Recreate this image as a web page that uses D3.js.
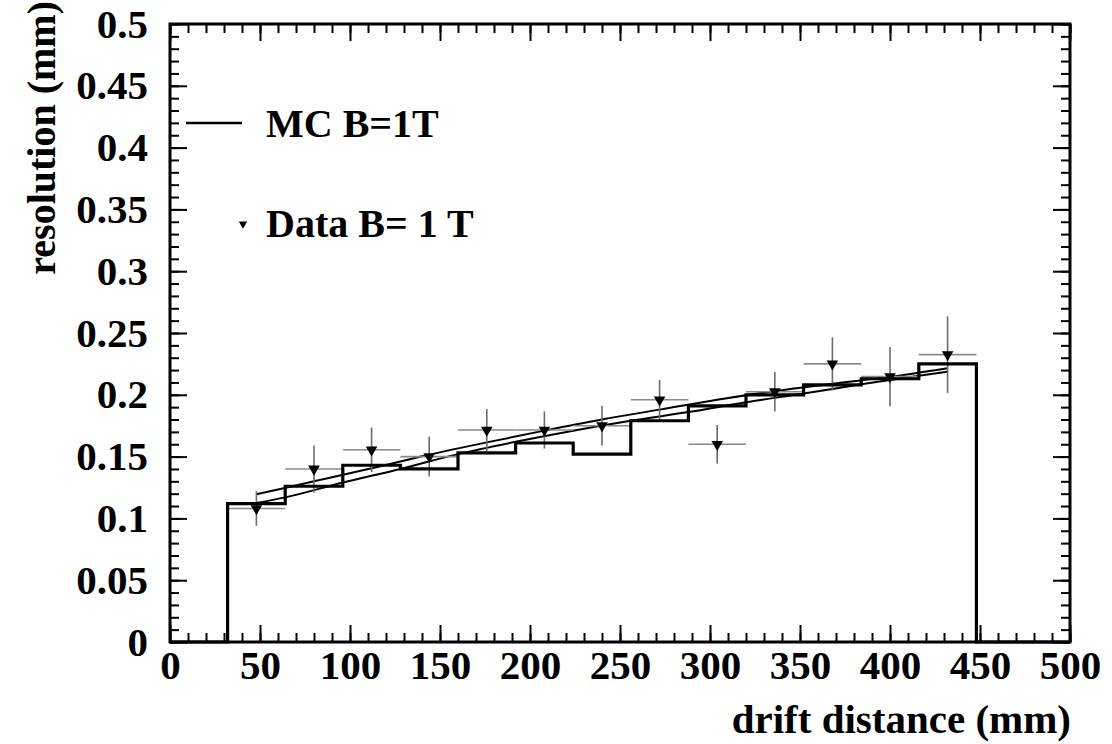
<!DOCTYPE html>
<html><head><meta charset="utf-8">
<script src="https://cdn.jsdelivr.net/npm/d3@7"></script>
<style>body{margin:0;background:#fff}svg{display:block}</style>
</head><body>
<svg id="c" width="1112" height="744"></svg>
<script>
// ---- data ----
const binEdges = [32,64,96,128,160,192,224,256,288,320,352,384,416,448];
const mcHist = [0.112,0.126,0.143,0.140,0.153,0.161,0.152,0.179,0.191,0.200,0.208,0.213,0.225];
const dataX = [48,80,112,144,176,208,240,272,304,336,368,400,432];
const dataY = [0.108,0.140,0.1555,0.150,0.1715,0.1715,0.175,0.196,0.160,0.2025,0.225,0.2147,0.2325];
const dataErr = [0.014,0.019,0.018,0.016,0.017,0.015,0.016,0.016,0.0155,0.016,0.0215,0.024,0.031];
const dataXErr = 16;
const fitDataX = [48,80,112,144,176,208,240,272,304,336,368,400,432];
const fitDataY = [0.1195,0.130,0.1405,0.1515,0.1615,0.171,0.180,0.188,0.196,0.203,0.209,0.2145,0.2215];
const fitMcX = [48,64,96,128,160,192,224,256,288,320,352,384,416,432];
const fitMcY = [0.1125,0.117,0.129,0.140,0.152,0.162,0.171,0.179,0.186,0.194,0.201,0.2085,0.2155,0.2187];
const xTicks = [0,50,100,150,200,250,300,350,400,450,500];
const xTickLabels = ["0","50","100","150","200","250","300","350","400","450","500"];
const yTicks = [0,0.05,0.1,0.15,0.2,0.25,0.3,0.35,0.4,0.45,0.5];
const yTickLabels = ["0","0.05","0.1","0.15","0.2","0.25","0.3","0.35","0.4","0.45","0.5"];
const xMinor = d3.range(0,501,10);
const yMinor = d3.range(0,51,1).map(d=>d/100);

// ---- layout ----
const svg = d3.select("#c");
const FONT = "'Liberation Serif','Times New Roman',serif";
const x = d3.scaleLinear().domain([0,500]).range([170,1070]);
const y = d3.scaleLinear().domain([0,0.5]).range([642,24]);
const L = 170, R = 1070, T = 24, B = 642;

function styleAxis(g){
  g.select(".domain").remove();
  g.selectAll("line").attr("stroke","#000").attr("stroke-width",2);
  g.selectAll("text").attr("font-family",FONT).attr("font-weight","bold").attr("font-size",41).attr("fill","#000");
}
const bottomMaj = svg.append("g").attr("transform",`translate(0,${B})`)
  .call(d3.axisBottom(x).tickValues(xTicks).tickSize(-17).tickPadding(8).tickFormat((d,i)=>xTickLabels[i]));
styleAxis(bottomMaj);
const bottomMin = svg.append("g").attr("transform",`translate(0,${B})`)
  .call(d3.axisBottom(x).tickValues(xMinor).tickSize(-9).tickFormat(""));
styleAxis(bottomMin);
const topMaj = svg.append("g").attr("transform",`translate(0,${T})`)
  .call(d3.axisTop(x).tickValues(xTicks).tickSize(-17).tickFormat(""));
styleAxis(topMaj);
const topMin = svg.append("g").attr("transform",`translate(0,${T})`)
  .call(d3.axisTop(x).tickValues(xMinor).tickSize(-9).tickFormat(""));
styleAxis(topMin);
const leftMaj = svg.append("g").attr("transform",`translate(${L},0)`)
  .call(d3.axisLeft(y).tickValues(yTicks).tickSize(-17).tickPadding(22).tickFormat((d,i)=>yTickLabels[i]));
styleAxis(leftMaj);
const leftMin = svg.append("g").attr("transform",`translate(${L},0)`)
  .call(d3.axisLeft(y).tickValues(yMinor).tickSize(-9).tickFormat(""));
styleAxis(leftMin);
const rightMaj = svg.append("g").attr("transform",`translate(${R},0)`)
  .call(d3.axisRight(y).tickValues(yTicks).tickSize(-17).tickFormat(""));
styleAxis(rightMaj);
const rightMin = svg.append("g").attr("transform",`translate(${R},0)`)
  .call(d3.axisRight(y).tickValues(yMinor).tickSize(-9).tickFormat(""));
styleAxis(rightMin);

// ---- fit lines ----
const line = d3.line().x(d=>x(d[0])).y(d=>y(d[1])).curve(d3.curveMonotoneX);
svg.append("path").attr("d",line(fitDataX.map((v,i)=>[v,fitDataY[i]])))
  .attr("fill","none").attr("stroke","#000").attr("stroke-width",2);
svg.append("path").attr("d",line(fitMcX.map((v,i)=>[v,fitMcY[i]])))
  .attr("fill","none").attr("stroke","#000").attr("stroke-width",2);

// ---- error bars ----
const eb = svg.append("g");
dataX.forEach((xv,i)=>{
  eb.append("line").attr("x1",x(xv-dataXErr)).attr("x2",x(xv+dataXErr))
    .attr("y1",y(dataY[i])).attr("y2",y(dataY[i])).attr("stroke","#8a8a8a").attr("stroke-width",1.6);
  eb.append("line").attr("x1",x(xv)).attr("x2",x(xv))
    .attr("y1",y(dataY[i]-dataErr[i])).attr("y2",y(dataY[i]+dataErr[i])).attr("stroke","#6a6a6a").attr("stroke-width",1.6);
});

// ---- MC histogram ----
const hp = d3.path();
hp.moveTo(x(0),y(0));
hp.lineTo(x(binEdges[0]),y(0));
mcHist.forEach((v,i)=>{
  hp.lineTo(x(binEdges[i]),y(v));
  hp.lineTo(x(binEdges[i+1]),y(v));
});
hp.lineTo(x(binEdges[binEdges.length-1]),y(0));
hp.lineTo(x(500),y(0));
svg.append("path").attr("d",hp.toString()).attr("fill","none").attr("stroke","#000")
  .attr("stroke-width",3.2).attr("stroke-linejoin","miter");

// ---- markers ----
const tri = d3.symbol().type(d3.symbolTriangle).size(58);
svg.append("g").selectAll("path").data(dataX).join("path")
  .attr("d",tri)
  .attr("transform",(d,i)=>`translate(${x(d)},${y(dataY[i])}) rotate(180)`)
  .attr("fill","#000");

// ---- frame ----
svg.append("rect").attr("x",L).attr("y",T).attr("width",R-L).attr("height",B-T)
  .attr("fill","none").attr("stroke","#000").attr("stroke-width",3);

// ---- legend ----
svg.append("line").attr("x1",186).attr("x2",242).attr("y1",123).attr("y2",123)
  .attr("stroke","#000").attr("stroke-width",2.5);
svg.append("text").attr("x",266).attr("y",137).text("MC B=1T")
  .attr("font-family",FONT).attr("font-weight","bold").attr("font-size",40);
svg.append("path").attr("d",d3.symbol().type(d3.symbolTriangle).size(30))
  .attr("transform","translate(243,224) rotate(180)").attr("fill","#000");
svg.append("text").attr("x",266).attr("y",237).text("Data B= 1 T")
  .attr("font-family",FONT).attr("font-weight","bold").attr("font-size",40);

// ---- axis titles ----
svg.append("text").attr("x",1071).attr("y",733).attr("text-anchor","end")
  .text("drift distance (mm)")
  .attr("font-family",FONT).attr("font-weight","bold").attr("font-size",41);
svg.append("text").attr("transform","translate(55,1) rotate(-90)").attr("text-anchor","end")
  .text("resolution (mm)")
  .attr("font-family",FONT).attr("font-weight","bold").attr("font-size",40);
</script>
</body></html>
